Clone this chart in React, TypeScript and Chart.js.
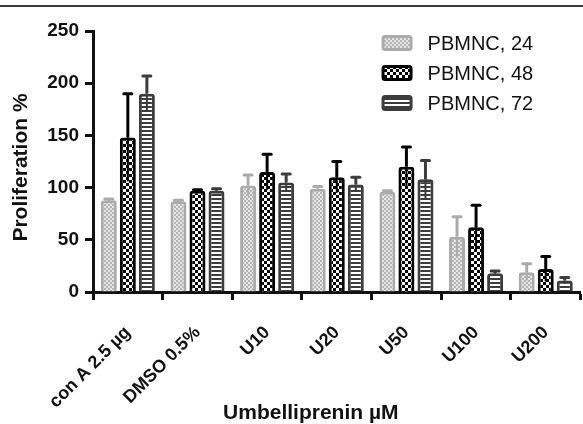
import React, { useEffect, useRef } from "react";
import { Chart, registerables } from "chart.js";
Chart.register(...registerables);

const categories = ["con A 2.5 µg", "DMSO 0.5%", "U10", "U20", "U50", "U100", "U200"];
const seriesLabels = ["PBMNC, 24", "PBMNC, 48", "PBMNC, 72"];
const values24 = [88, 87, 102, 99, 96, 53, 19];
const err24 = [1, 1, 10, 2, 1, 19, 8];
const values48 = [148, 97, 115, 110, 120, 62, 22];
const err48 = [42, 1, 17, 15, 19, 21, 12];
const values72 = [190, 97, 105, 103, 108, 18, 11];
const err72 = [17, 2, 8, 7, 18, 2, 3];
const yTicks = [0, 50, 100, 150, 200, 250];
const xTitle = "Umbelliprenin µM";
const yTitle = "Proliferation %";

const FONT = "'Liberation Sans', Arial, sans-serif";

function makePattern(kind: number): CanvasPattern | string {
  const c = document.createElement("canvas");
  const ctx = c.getContext("2d")!;
  if (kind === 0) {
    c.width = 4; c.height = 4;
    ctx.fillStyle = "#e6e6e6"; ctx.fillRect(0, 0, 4, 4);
    ctx.fillStyle = "#b4b4b4";
    ctx.fillRect(0, 0, 2, 2); ctx.fillRect(2, 2, 2, 2);
  } else if (kind === 1) {
    c.width = 6; c.height = 6;
    ctx.fillStyle = "#000000"; ctx.fillRect(0, 0, 6, 6);
    ctx.fillStyle = "#ffffff";
    ctx.fillRect(0, 0, 3, 3); ctx.fillRect(3, 3, 3, 3);
  } else {
    c.width = 4; c.height = 4;
    ctx.fillStyle = "#3c3c3c"; ctx.fillRect(0, 0, 4, 4);
    ctx.fillStyle = "#ffffff"; ctx.fillRect(0, 0, 4, 2);
  }
  const ref = document.createElement("canvas").getContext("2d")!;
  return ref.createPattern(c, "repeat") || "#888";
}

const borderColors = ["#ababab", "#000000", "#3c3c3c"];
const errs = [err24, err48, err72];

export default function App() {
  const ref = useRef<HTMLCanvasElement>(null);
  useEffect(() => {
    if (!ref.current) return;
    const patterns = [makePattern(0), makePattern(1), makePattern(2)];
    const errorBars = {
      id: "errorBars",
      afterDatasetsDraw(chart: any) {
        const ctx = chart.ctx;
        const ys = chart.scales.y;
        chart.data.datasets.forEach((ds: any, di: number) => {
          const meta = chart.getDatasetMeta(di);
          meta.data.forEach((el: any, i: number) => {
            const v = ds.data[i];
            const e = errs[di][i];
            const yTop = ys.getPixelForValue(v + e);
            const yBot = ys.getPixelForValue(v - e);
            ctx.save();
            ctx.strokeStyle = borderColors[di];
            ctx.lineWidth = 2;
            ctx.beginPath();
            ctx.moveTo(el.x, el.y);
            ctx.lineTo(el.x, yBot);
            ctx.stroke();
            ctx.lineWidth = 3;
            ctx.beginPath();
            ctx.moveTo(el.x, el.y);
            ctx.lineTo(el.x, yTop);
            ctx.stroke();
            ctx.lineCap = "round";
            ctx.beginPath();
            ctx.moveTo(el.x - 4, yTop);
            ctx.lineTo(el.x + 4, yTop);
            ctx.stroke();
            ctx.restore();
          });
        });
      },
    };
    const customText = {
      id: "customText",
      afterDraw(chart: any) {
        const ctx = chart.ctx;
        const a = chart.chartArea;
        ctx.save();
        // legend
        ctx.font = `20px ${FONT}`;
        ctx.textBaseline = "middle";
        ctx.textAlign = "left";
        seriesLabels.forEach((lab, i) => {
          const bx = a.right - 199;
          const cy = a.top + 12 + i * 30;
          ctx.fillStyle = patterns[i];
          ctx.strokeStyle = borderColors[i];
          ctx.lineWidth = 3;
          ctx.beginPath();
          (ctx as any).roundRect(bx + 1.5, cy - 6.5, 28, 13, 2);
          ctx.fill();
          ctx.stroke();
          ctx.fillStyle = "#111";
          ctx.fillText(lab, bx + 46, cy + 1);
        });
        // x title
        ctx.font = `bold 21px ${FONT}`;
        ctx.textAlign = "center";
        ctx.textBaseline = "alphabetic";
        ctx.fillStyle = "#111";
        ctx.fillText(xTitle, (a.left + a.right) / 2 - 26, chart.height - 5);
        // y title
        ctx.translate(21, (a.top + a.bottom) / 2 + 6);
        ctx.rotate(-Math.PI / 2);
        ctx.textBaseline = "middle";
        ctx.fillText(yTitle, 0, 0);
        ctx.restore();
      },
    };
    const mk = (i: number, data: number[]) => ({
      label: seriesLabels[i],
      data,
      backgroundColor: patterns[i],
      borderColor: borderColors[i],
      borderWidth: 3,
      borderRadius: 3,
      borderSkipped: "bottom",
      categoryPercentage: 0.82,
      barPercentage: 0.84,
    });
    const chart = new Chart(ref.current, {
      type: "bar",
      data: {
        labels: categories,
        datasets: [mk(0, values24), mk(1, values48), mk(2, values72)] as any,
      },
      options: {
        animation: false,
        responsive: false,
        layout: { padding: { top: 31, right: 0, left: 0, bottom: 0 } },
        plugins: { legend: { display: false }, tooltip: { enabled: false } },
        scales: {
          x: {
            afterFit: (s: any) => { s.height = 132; },
            grid: { drawOnChartArea: false, tickLength: 8, tickWidth: 3, color: "#111" },
            border: { color: "#111", width: 3 },
            ticks: {
              maxRotation: 45, minRotation: 45, padding: 22,
              color: "#111", font: { family: FONT, size: 18, weight: "bold" },
            },
          },
          y: {
            min: 0, max: 250,
            afterFit: (s: any) => { s.width = 93; },
            afterBuildTicks: (s: any) => { s.ticks = yTicks.map((v) => ({ value: v })); },
            grid: { drawOnChartArea: false, tickLength: 8, tickWidth: 3, color: "#111" },
            border: { color: "#111", width: 3 },
            ticks: {
              padding: 6, color: "#111",
              font: { family: FONT, size: 19, weight: "bold" },
            },
          },
        },
      } as any,
      plugins: [errorBars, customText],
    });
    return () => chart.destroy();
  }, []);
  return (
    <div style={{ position: "absolute", left: 0, top: 0, width: 583, height: 424, background: "#fff" }}>
      <div style={{ position: "absolute", left: 0, top: 5, width: 583, height: 2, background: "#3a3a3a" }} />
      <canvas ref={ref} width={583} height={424} style={{ display: "block" }} />
    </div>
  );
}
